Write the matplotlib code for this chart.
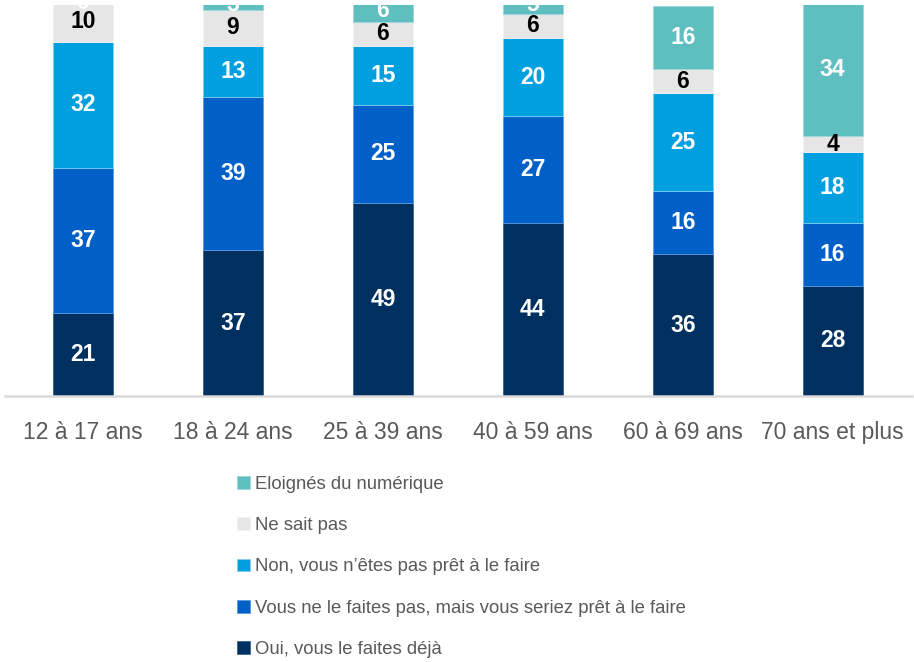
import matplotlib.pyplot as plt
import numpy as np

plt.rcParams['font.family'] = ['Liberation Sans', 'DejaVu Sans']

categories = ['12 à 17 ans', '18 à 24 ans', '25 à 39 ans', '40 à 59 ans', '60 à 69 ans', '70 ans et plus']
series = ['Oui, vous le faites déjà',
          'Vous ne le faites pas, mais vous seriez prêt à le faire',
          'Non, vous n\u2019êtes pas prêt à le faire',
          'Ne sait pas',
          'Eloignés du numérique']
oui = [21, 37, 49, 44, 36, 28]
pret = [37, 39, 25, 27, 16, 16]
non = [32, 13, 15, 20, 25, 18]
nsp = [10, 9, 6, 6, 6, 4]
eloignes = [0, 3, 6, 5, 16, 34]
colors = ['#00305f', '#0060c8', '#009fe0', '#e6e6e6', '#5ebec0']
edge_colors = ['#3a5f8a', '#5a9ae0', '#7fcdf0', '#f2f2f2', '#9ed8d9']
label_colors = ['white', 'white', 'white', 'black', 'white']

fig = plt.figure(figsize=(9.14, 6.62), dpi=100)
ax = fig.add_axes([0.0055, 0.4018, 0.9925, 0.5906])

x = np.arange(len(categories))
bottom = np.zeros(len(categories))
handles = []
for name, vals, col, ec, lc in zip(series, [oui, pret, non, nsp, eloignes], colors, edge_colors, label_colors):
    vals = np.array(vals, dtype=float)
    bars = ax.bar(x, vals, 0.4, bottom=bottom, color=col, edgecolor=ec, linewidth=0.6, label=name)
    handles.append(bars)
    for xi, b, v in zip(x, bottom, vals):
        ax.text(xi, b + v / 2, f'{v:.0f}', ha='center', va='center', color=lc,
                fontsize=16.5, fontweight='bold', clip_on=False)
    bottom += vals

ax.set_ylim(0, 99.3)
ax.set_xlim(-0.52, 5.53)
ax.set_yticks([])
ax.set_xticks(x)
ax.set_xticklabels(categories, fontsize=16.5, color='#595959')
ax.tick_params(axis='x', length=0, pad=18)
for s in ['top', 'right', 'left']:
    ax.spines[s].set_visible(False)
ax.spines['bottom'].set_color('#d9d9d9')
ax.spines['bottom'].set_linewidth(1.8)

leg = ax.legend(handles[::-1], series[::-1], loc='upper left', bbox_to_anchor=(0.241, 0.306),
                bbox_transform=fig.transFigure, frameon=False, fontsize=13.3,
                handlelength=0.7, handleheight=0.7, handletextpad=0.3, labelspacing=1.31,
                labelcolor='#595959')

fig.savefig('out.png', dpi=100)
